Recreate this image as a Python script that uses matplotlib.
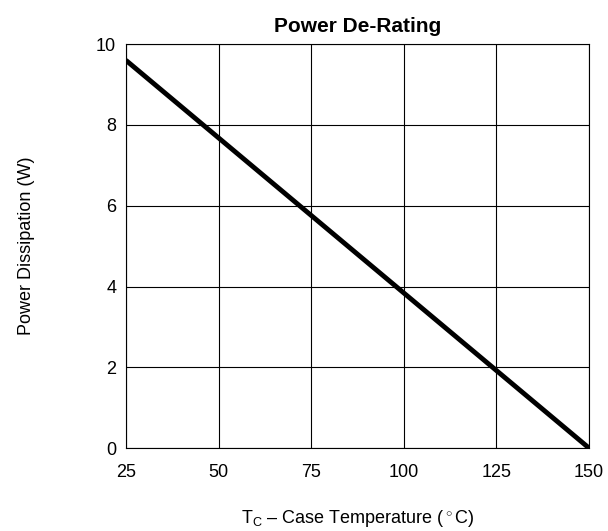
import matplotlib.pyplot as plt

plt.rcParams['font.family'] = ['Liberation Sans', 'DejaVu Sans']
plt.rcParams['mathtext.fontset'] = 'custom'
plt.rcParams['mathtext.rm'] = 'Liberation Sans'

# case temperature (C) vs allowed power dissipation (W)
temp = [25, 150]
power = [9.6, 0.0]

x_ticks = [25, 50, 75, 100, 125, 150]
y_ticks = [0, 2, 4, 6, 8, 10]

fig = plt.figure(figsize=(6.08, 5.31), dpi=100)
ax = fig.add_axes([0.207, 0.156, 0.762, 0.761])

ax.plot(temp, power, color='black', linewidth=3.5, solid_capstyle='butt')

ax.set_xlim(25, 150)
ax.set_ylim(0, 10)
ax.set_xticks(x_ticks)
ax.set_yticks(y_ticks)
ax.tick_params(length=0, labelsize=13)
ax.tick_params(axis='x', pad=11.5)
ax.tick_params(axis='y', pad=7)
ax.grid(True, color='black', linewidth=0.8)
for s in ax.spines.values():
    s.set_linewidth(0.8)

ax.set_title('Power De-Rating', fontsize=15, fontweight='bold', pad=8.5)
ax.set_xlabel(r'T$_\mathregular{C}$ – Case Temperature ($^\circ$C)', fontsize=13, labelpad=19)
ax.set_ylabel('Power Dissipation (W)', fontsize=13, labelpad=44)

fig.savefig('out.png', dpi=100)
